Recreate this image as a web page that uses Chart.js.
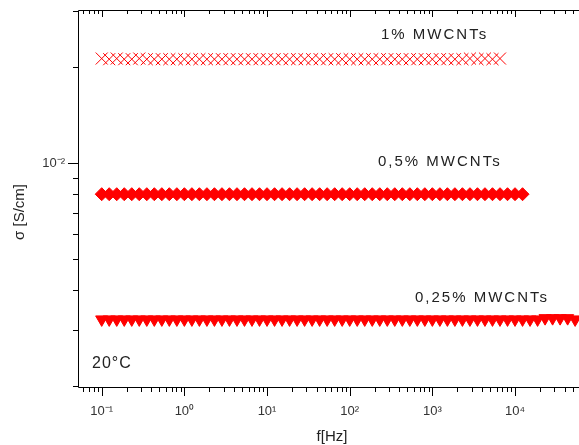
<!DOCTYPE html>
<html>
<head>
<meta charset="utf-8">
<script src="https://cdn.jsdelivr.net/npm/chart.js@4/dist/chart.umd.min.js"></script>
<style>
  html, body { margin: 0; padding: 0; background: #fff; overflow: hidden; }
  #wrap { width: 579px; height: 445px; overflow: hidden; }
</style>
</head>
<body>
<div id="wrap"><canvas id="sigma" width="640" height="445"></canvas></div>
<script>
// frequencies [Hz] of the sweep
const freq = [
  0.1, 0.1233, 0.152, 0.1874, 0.231, 0.2848, 0.3511, 0.4329, 0.5337, 0.6579, 0.8111,
  1, 1.233, 1.52, 1.874, 2.31, 2.848, 3.511, 4.329, 5.337, 6.579, 8.111,
  10, 12.33, 15.2, 18.74, 23.1, 28.48, 35.11, 43.29, 53.37, 65.79, 81.11,
  100, 123.3, 152, 187.4, 231, 284.8, 351.1, 432.9, 533.7, 657.9, 811.1,
  1000, 1233, 1520, 1874, 2310, 2848, 3511, 4329, 5337, 6579, 8111,
  10000, 12330, 15200, 18740, 23100, 28480, 35110, 43290, 53370
];

// sigma [S/cm] for each sample
const sigma1 = [
  0.0213, 0.0212, 0.0213, 0.0212, 0.0212, 0.0213, 0.0212, 0.0212, 0.0212, 0.0212, 0.0212,
  0.0212, 0.0212, 0.0212, 0.0212, 0.0212, 0.0212, 0.0212, 0.0212, 0.0212, 0.0212, 0.0212,
  0.0212, 0.0212, 0.0212, 0.0212, 0.0212, 0.0212, 0.0212, 0.0212, 0.0212, 0.0212, 0.0212,
  0.0212, 0.0212, 0.0212, 0.0212, 0.0212, 0.0212, 0.0212, 0.0212, 0.0212, 0.0212, 0.0212,
  0.0212, 0.0212, 0.0212, 0.0212, 0.0212, 0.0213, 0.0212, 0.0213, 0.0212, 0.0213
];
const sigma05 = [
  0.0080, 0.0080, 0.0080, 0.0080, 0.0080, 0.0080, 0.0080, 0.0080, 0.0080, 0.0080, 0.0080,
  0.0080, 0.0080, 0.0080, 0.0080, 0.0080, 0.0080, 0.0080, 0.0080, 0.0080, 0.0080, 0.0080,
  0.0080, 0.0080, 0.0080, 0.0080, 0.0080, 0.0080, 0.0080, 0.0080, 0.0080, 0.0080, 0.0080,
  0.0080, 0.0080, 0.0080, 0.0080, 0.0080, 0.0080, 0.0080, 0.0080, 0.0080, 0.0080, 0.0080,
  0.0080, 0.0080, 0.0080, 0.0080, 0.0080, 0.0080, 0.0080, 0.0080, 0.0080, 0.0080, 0.0080,
  0.0080, 0.0080
];
const sigma025 = [
  0.00324, 0.00324, 0.00324, 0.00324, 0.00324, 0.00324, 0.00324, 0.00324, 0.00324, 0.00324, 0.00324,
  0.00324, 0.00324, 0.00324, 0.00324, 0.00324, 0.00324, 0.00324, 0.00324, 0.00324, 0.00324, 0.00324,
  0.00324, 0.00324, 0.00324, 0.00324, 0.00324, 0.00324, 0.00324, 0.00324, 0.00324, 0.00324, 0.00324,
  0.00324, 0.00324, 0.00324, 0.00324, 0.00324, 0.00324, 0.00324, 0.00324, 0.00324, 0.00324, 0.00324,
  0.00324, 0.00324, 0.00324, 0.00324, 0.00324, 0.00324, 0.00324, 0.00324, 0.00324, 0.00324, 0.00324,
  0.00324, 0.00324, 0.00324, 0.00324, 0.00327, 0.00327, 0.00327, 0.00327, 0.00324
];

const seriesLabels = ['1% MWCNTs', '0,5% MWCNTs', '0,25% MWCNTs'];

// axis ticks
const xMajorTicks = [0.1, 1, 10, 100, 1000, 10000, 100000];
const yMajorTicks = [0.01];
const minorSteps = [2, 3, 4, 5, 6, 7, 8, 9];

const SUP = { '-': '\u207B', '0': '\u2070', '1': '\u00B9', '2': '\u00B2', '3': '\u00B3', '4': '\u2074', '5': '\u2075' };
function powLabel(v) {
  const e = String(Math.round(Math.log10(v)));
  return '10' + e.split('').map(c => SUP[c]).join('');
}

function pts(ys) {
  return ys.map((y, i) => ({ x: freq[i], y: y }));
}

function minorsFor(majors, min, max) {
  const out = [];
  majors.concat([majors[0] / 10]).forEach(m => {
    minorSteps.forEach(s => {
      const v = m * s;
      if (v > min && v < max) out.push(v);
    });
  });
  return out;
}

// frame, tick marks, axis titles and text notes
const framePlugin = {
  id: 'frame',
  afterDraw(chart) {
    const ctx = chart.ctx;
    const a = chart.chartArea;
    const xs = chart.scales.x, ys = chart.scales.y;
    ctx.save();
    ctx.strokeStyle = '#000';
    ctx.lineWidth = 1;
    ctx.beginPath();
    ctx.moveTo(a.left + 0.5, a.top + 0.5);
    ctx.lineTo(a.right + 0.5, a.top + 0.5);
    ctx.lineTo(a.right + 0.5, a.bottom + 0.5);
    ctx.lineTo(a.left + 0.5, a.bottom + 0.5);
    ctx.closePath();
    ctx.stroke();

    ctx.beginPath();
    const xMin = minorsFor(xMajorTicks, xs.min, xs.max);
    xMajorTicks.forEach(v => {
      const px = Math.round(xs.getPixelForValue(v)) + 0.5;
      ctx.moveTo(px, a.bottom); ctx.lineTo(px, a.bottom + 9);
      ctx.moveTo(px, a.top); ctx.lineTo(px, a.top + 7);
    });
    xMin.forEach(v => {
      const px = Math.round(xs.getPixelForValue(v)) + 0.5;
      ctx.moveTo(px, a.bottom); ctx.lineTo(px, a.bottom + 5);
      ctx.moveTo(px, a.top); ctx.lineTo(px, a.top + 4);
    });
    const yMin = minorsFor(yMajorTicks, ys.min, ys.max);
    yMajorTicks.forEach(v => {
      const py = Math.round(ys.getPixelForValue(v)) + 0.5;
      ctx.moveTo(a.left - 10, py); ctx.lineTo(a.left, py);
    });
    yMin.forEach(v => {
      const py = Math.round(ys.getPixelForValue(v)) + 0.5;
      ctx.moveTo(a.left - 5, py); ctx.lineTo(a.left, py);
    });
    ctx.stroke();

    // axis titles
    ctx.fillStyle = '#222';
    ctx.font = '15px "Liberation Sans", Arial, sans-serif';
    ctx.textAlign = 'center';
    ctx.textBaseline = 'middle';
    ctx.fillText('f[Hz]', 332, 437);
    ctx.save();
    ctx.translate(20, 212);
    ctx.rotate(-Math.PI / 2);
    ctx.fillText('\u03C3 [S/cm]', 0, 0);
    ctx.restore();

    // notes
    ctx.font = '15px "Liberation Sans", Arial, sans-serif';
    ctx.textAlign = 'left';
    ctx.letterSpacing = '2px';
    ctx.fillText(seriesLabels[0], 381, 35);
    ctx.fillText(seriesLabels[1], 378, 162);
    ctx.fillText(seriesLabels[2], 415, 298);
    ctx.font = '16px "Liberation Sans", Arial, sans-serif';
    ctx.letterSpacing = '1px';
    ctx.fillText('20\u00B0C', 92, 364);
    ctx.restore();
  }
};

const fixPad = s => { s.paddingTop = 0; s.paddingBottom = 0; s.paddingLeft = 0; s.paddingRight = 0; };

new Chart(document.getElementById('sigma'), {
  type: 'scatter',
  data: {
    datasets: [
      {
        label: seriesLabels[0],
        data: pts(sigma1),
        pointStyle: 'crossRot',
        pointRadius: 8.5,
        borderColor: '#ff0000',
        backgroundColor: '#ff0000',
        pointBorderWidth: 1
      },
      {
        label: seriesLabels[1],
        data: pts(sigma05),
        pointStyle: 'rectRot',
        pointRadius: 6.5,
        borderColor: '#ff0000',
        backgroundColor: '#ff0000',
        pointBorderWidth: 1
      },
      {
        label: seriesLabels[2],
        data: pts(sigma025),
        pointStyle: 'triangle',
        pointRotation: 180,
        pointRadius: 7,
        borderColor: '#ff0000',
        backgroundColor: '#ff0000',
        pointBorderWidth: 1
      }
    ]
  },
  options: {
    responsive: false,
    animation: false,
    events: [],
    layout: { padding: { top: 10, right: 20, left: 0, bottom: 0 } },
    plugins: { legend: { display: false }, tooltip: { enabled: false } },
    scales: {
      x: {
        type: 'logarithmic',
        bounds: 'data',
        min: 0.05167,
        max: 186200,
        grid: { display: false, drawTicks: false },
        border: { display: false },
        afterBuildTicks: s => { s.ticks = xMajorTicks.map(v => ({ value: v, major: true })); },
        afterFit: s => { s.height = 58; fixPad(s); },
        ticks: {
          autoSkip: false,
          maxRotation: 0,
          padding: 17,
          color: '#333',
          font: { family: '"Liberation Sans", Arial, sans-serif', size: 13 },
          callback: v => powLabel(v)
        }
      },
      y: {
        type: 'logarithmic',
        bounds: 'data',
        min: 0.001989,
        max: 0.03024,
        grid: { display: false, drawTicks: false },
        border: { display: false },
        afterBuildTicks: s => { s.ticks = yMajorTicks.map(v => ({ value: v, major: true })); },
        afterFit: s => { s.width = 78; fixPad(s); },
        ticks: {
          autoSkip: false,
          padding: 13,
          color: '#333',
          font: { family: '"Liberation Sans", Arial, sans-serif', size: 13 },
          callback: v => powLabel(v)
        }
      }
    }
  },
  plugins: [framePlugin]
});
</script>
</body>
</html>
